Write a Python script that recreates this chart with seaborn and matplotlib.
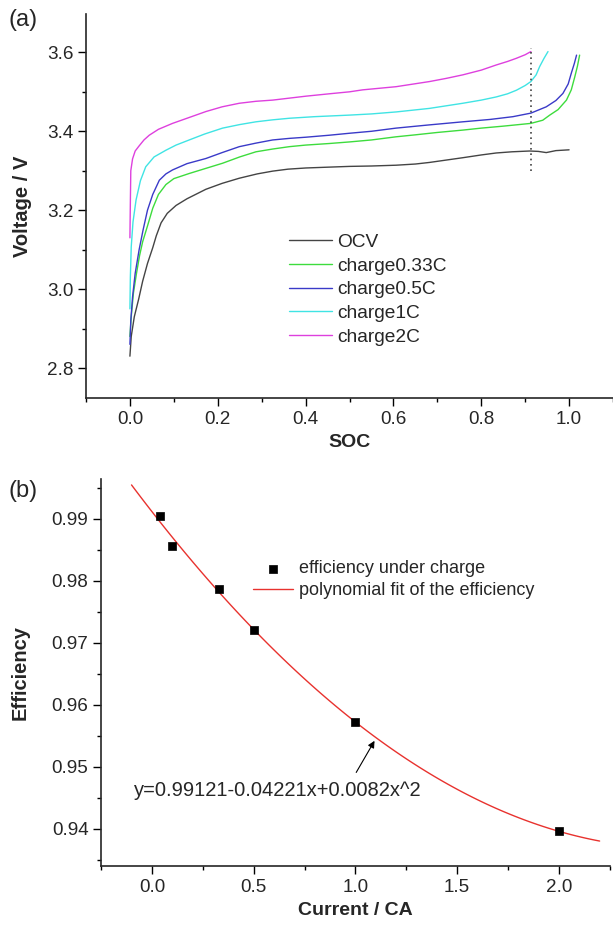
import numpy as np
import pandas as pd
import matplotlib
matplotlib.use("Agg")
import matplotlib.pyplot as plt
import seaborn as sns
from matplotlib.ticker import MultipleLocator, FormatStrFormatter

# ---------------- data: panel (a) ----------------
series_names = ["OCV", "charge0.33C", "charge0.5C", "charge1C", "charge2C"]

ocv_soc = [0, 0.003, 0.01, 0.02, 0.029, 0.04, 0.052, 0.06, 0.071, 0.085, 0.105, 0.13, 0.173,
           0.21, 0.249, 0.29, 0.325, 0.36, 0.401, 0.45, 0.5, 0.55, 0.606, 0.65, 0.682, 0.72,
           0.758, 0.8, 0.834, 0.87, 0.91, 0.93, 0.948, 0.97, 1.0]
ocv_v = [2.83, 2.88, 2.93, 2.975, 3.02, 3.065, 3.105, 3.135, 3.168, 3.192, 3.212, 3.229, 3.253,
         3.268, 3.281, 3.292, 3.299, 3.304, 3.307, 3.309, 3.311, 3.312, 3.314, 3.317, 3.321, 3.327,
         3.333, 3.34, 3.345, 3.348, 3.350, 3.349, 3.346, 3.351, 3.353]

c033_soc = [0, 0.003, 0.008, 0.015, 0.022, 0.029, 0.04, 0.052, 0.065, 0.082, 0.1, 0.135, 0.17,
            0.211, 0.25, 0.287, 0.325, 0.363, 0.4, 0.454, 0.5, 0.55, 0.606, 0.65, 0.7, 0.758,
            0.8, 0.85, 0.913, 0.94, 0.956, 0.975, 0.994, 1.005, 1.013, 1.019, 1.024]
c033_v = [2.88, 2.93, 2.99, 3.04, 3.085, 3.12, 3.16, 3.205, 3.24, 3.265, 3.28, 3.293, 3.305,
          3.319, 3.335, 3.348, 3.355, 3.361, 3.365, 3.369, 3.373, 3.378, 3.386, 3.391, 3.397,
          3.403, 3.408, 3.413, 3.42, 3.428, 3.441, 3.455, 3.479, 3.505, 3.538, 3.565, 3.593]

c05_soc = [0, 0.002, 0.006, 0.012, 0.021, 0.03, 0.04, 0.052, 0.067, 0.082, 0.097, 0.13, 0.173,
           0.21, 0.249, 0.287, 0.325, 0.363, 0.401, 0.454, 0.5, 0.55, 0.606, 0.68, 0.758, 0.82,
           0.872, 0.913, 0.948, 0.97, 0.986, 0.998, 1.005, 1.012, 1.017]
c05_v = [2.86, 2.92, 2.98, 3.04, 3.10, 3.15, 3.20, 3.24, 3.276, 3.292, 3.302, 3.318, 3.331,
         3.346, 3.361, 3.37, 3.378, 3.382, 3.385, 3.39, 3.395, 3.40, 3.408, 3.416, 3.424, 3.43,
         3.437, 3.446, 3.462, 3.478, 3.496, 3.52, 3.547, 3.572, 3.593]

c1_soc = [0, 0.001, 0.003, 0.007, 0.014, 0.024, 0.036, 0.055, 0.082, 0.105, 0.135, 0.17, 0.211,
          0.25, 0.287, 0.325, 0.363, 0.42, 0.5, 0.55, 0.606, 0.682, 0.758, 0.8, 0.834, 0.86,
          0.88, 0.9, 0.913, 0.925, 0.933, 0.943, 0.952]
c1_v = [2.95, 3.03, 3.107, 3.17, 3.226, 3.275, 3.31, 3.335, 3.352, 3.365, 3.378, 3.393, 3.408,
        3.417, 3.424, 3.429, 3.433, 3.437, 3.441, 3.444, 3.449, 3.458, 3.471, 3.479, 3.487,
        3.495, 3.504, 3.516, 3.526, 3.543, 3.564, 3.585, 3.602]

c2_soc = [0, 0.001, 0.002, 0.006, 0.012, 0.021, 0.032, 0.044, 0.065, 0.097, 0.13, 0.173, 0.21,
          0.249, 0.287, 0.325, 0.363, 0.401, 0.454, 0.5, 0.53, 0.606, 0.682, 0.72, 0.758, 0.8,
          0.834, 0.86, 0.88, 0.9, 0.913]
c2_v = [3.13, 3.22, 3.30, 3.33, 3.35, 3.363, 3.378, 3.39, 3.405, 3.42, 3.433, 3.45, 3.462,
        3.471, 3.476, 3.479, 3.484, 3.489, 3.495, 3.50, 3.505, 3.513, 3.526, 3.534, 3.543,
        3.555, 3.568, 3.577, 3.585, 3.594, 3.602]

cutoff_soc = 0.913
cutoff_v = [3.30, 3.612]

# ---------------- data: panel (b) ----------------
current_ca = [0.04, 0.1, 0.33, 0.5, 1.0, 2.0]
efficiency = [0.9905, 0.9857, 0.9787, 0.9721, 0.9572, 0.9396]
fit_range = [-0.1, 2.2]
eq_text = "y=0.99121-0.04221x+0.0082x^2"
eq_pos = [-0.087, 0.9462]
arrow_tail = [1.004, 0.9491]
arrow_tip = [1.094, 0.9542]

# ---------------- style ----------------
sns.set_style("ticks")
plt.rcParams['font.family'] = ['Liberation Sans', 'DejaVu Sans']
plt.rcParams['font.size'] = 13
plt.rcParams['axes.linewidth'] = 1.2

colors = {"OCV": "#444444", "charge0.33C": "#3ddc3d", "charge0.5C": "#3a3ac8",
          "charge1C": "#40e4e4", "charge2C": "#de40de"}

fig = plt.figure(figsize=(6.13, 9.26), dpi=100)
W, H = 613.0, 926.0
ax1 = fig.add_axes([86 / W, 1 - 398 / H, 527 / W, (398 - 13.7) / H])
ax2 = fig.add_axes([101 / W, 1 - 866 / H, 508.8 / W, (866 - 478.7) / H])

# ---------------- panel (a) ----------------
frames = []
for name, s, v in zip(series_names,
                      [ocv_soc, c033_soc, c05_soc, c1_soc, c2_soc],
                      [ocv_v, c033_v, c05_v, c1_v, c2_v]):
    frames.append(pd.DataFrame({"SOC": s, "Voltage": v, "series": name}))
df = pd.concat(frames, ignore_index=True)

sns.lineplot(data=df, x="SOC", y="Voltage", hue="series", hue_order=series_names,
             palette=colors, estimator=None, sort=False, linewidth=1.0, ax=ax1)
ax1.vlines(cutoff_soc, cutoff_v[0], cutoff_v[1], colors="#444444",
           linestyles=(0, (1, 2.2)), linewidth=1.2)

old = ax1.get_legend()
handles = old.legend_handles
labels = [t.get_text() for t in old.get_texts()]
old.remove()
ax1.legend(handles, labels, loc="upper left", bbox_to_anchor=(0.386, 0.428),
           frameon=False, handlelength=2.2, handletextpad=0.28, labelspacing=0.33,
           borderaxespad=0, borderpad=0, fontsize=13.8)

ax1.set_xlim(-0.1, 1.1)
ax1.set_ylim(2.724, 3.698)
ax1.xaxis.set_major_locator(MultipleLocator(0.2))
ax1.xaxis.set_minor_locator(MultipleLocator(0.1))
ax1.yaxis.set_major_locator(MultipleLocator(0.2))
ax1.yaxis.set_minor_locator(MultipleLocator(0.1))
ax1.xaxis.set_major_formatter(FormatStrFormatter("%.1f"))
ax1.yaxis.set_major_formatter(FormatStrFormatter("%.1f"))
ax1.set_xlabel("SOC", fontweight="bold", fontsize=14, labelpad=5)
ax1.set_ylabel("Voltage / V", fontweight="bold", fontsize=14.5, labelpad=11)

# ---------------- panel (b) ----------------
ax2.set_xlim(*fit_range)
sns.regplot(x=current_ca, y=efficiency, order=2, ci=None, scatter=False, truncate=False,
            line_kws=dict(color="#e8322e", linewidth=1.0,
                          label="polynomial fit of the efficiency"), ax=ax2)
sns.scatterplot(x=current_ca, y=efficiency, marker="s", s=28, color="black",
                edgecolor="black", linewidth=0.5, ax=ax2,
                label="efficiency under charge", zorder=3)
line_h = ax2.lines[0]
pt_h = ax2.collections[0]
if ax2.get_legend() is not None:
    ax2.get_legend().remove()
ax2.legend([pt_h, line_h], ["efficiency under charge", "polynomial fit of the efficiency"],
           loc="upper left", bbox_to_anchor=(0.299, 0.789), frameon=False,
           handlelength=2.2, handletextpad=0.35, labelspacing=0.25, borderaxespad=0,
           borderpad=0, fontsize=13, scatterpoints=1)

ax2.text(eq_pos[0], eq_pos[1], eq_text, fontsize=14.5, va="center", ha="left")
ax2.annotate("", xy=arrow_tip, xytext=arrow_tail,
             arrowprops=dict(arrowstyle="-|>", color="black", lw=0.8, mutation_scale=10,
                             shrinkA=0, shrinkB=0))

ax2.set_xlim(-0.25, 2.25)
ax2.set_ylim(0.934, 0.9965)
ax2.xaxis.set_major_locator(MultipleLocator(0.5))
ax2.xaxis.set_minor_locator(MultipleLocator(0.25))
ax2.yaxis.set_major_locator(MultipleLocator(0.01))
ax2.yaxis.set_minor_locator(MultipleLocator(0.005))
ax2.xaxis.set_major_formatter(FormatStrFormatter("%.1f"))
ax2.yaxis.set_major_formatter(FormatStrFormatter("%.2f"))
ax2.set_xlabel("Current / CA", fontweight="bold", fontsize=14, labelpad=5)
ax2.set_ylabel("Efficiency", fontweight="bold", fontsize=14.5, labelpad=16)

for ax in (ax1, ax2):
    sns.despine(ax=ax)
    ax.tick_params(which="major", direction="out", length=5.5, width=1.0, pad=3.5,
                   labelsize=13.6, color="black")
    ax.tick_params(which="minor", direction="out", length=3, width=1.0, color="black")

fig.text(8 / W, 1 - 20 / H, "(a)", fontsize=17, va="center", ha="left")
fig.text(8 / W, 1 - 491 / H, "(b)", fontsize=17, va="center", ha="left")

fig.savefig("out.png", dpi=100)
